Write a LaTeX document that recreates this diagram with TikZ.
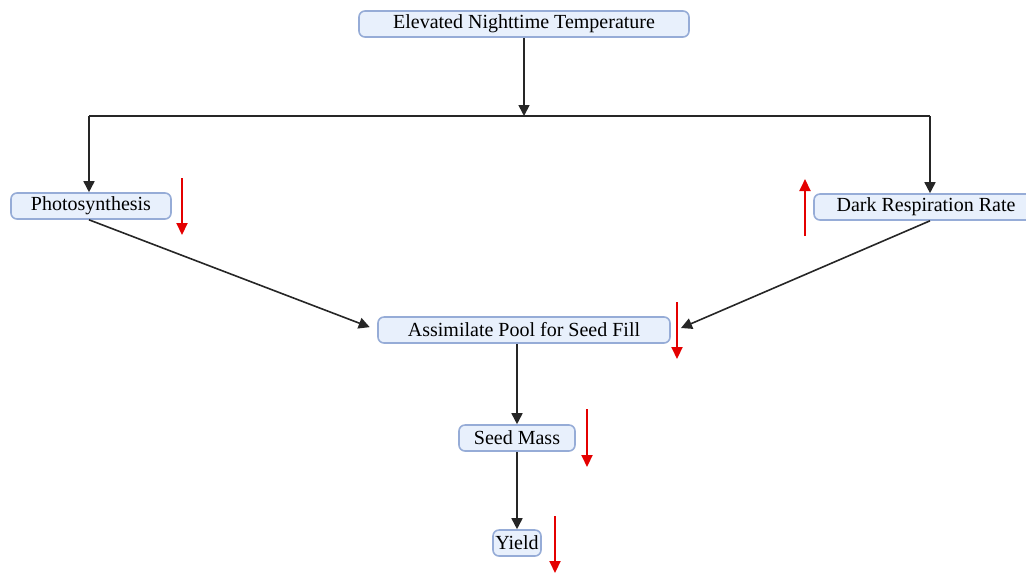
\documentclass[tikz,border=0pt]{standalone}
\usepackage{fontspec}
\setmainfont{Liberation Serif}
\usepackage{xcolor}
\usetikzlibrary{arrows.meta,positioning,calc}

\definecolor{boxfill}{RGB}{232,240,252}
\definecolor{boxline}{RGB}{150,172,215}
\definecolor{upred}{RGB}{228,0,0}

\begin{document}
\begin{tikzpicture}[
    x=0.5pt, y=-0.5pt,
    box/.style={rectangle, draw=boxline, fill=boxfill, line width=0.8pt, rounded corners=3pt,
        minimum height=13pt, inner sep=1pt, align=center, font=\normalsize},
    arrow/.style={-{Triangle[length=5.5pt,width=5.5pt]}, line width=0.8pt, black!85},
    line/.style={line width=0.8pt, black!85},
    redarrow/.style={-{Triangle[length=6pt,width=5.5pt]}, line width=1pt, upred}
]
\useasboundingbox (0,0) rectangle (1026,575);
\clip (0,0) rectangle (1026,575);

% Driver
\node[box, minimum width=165pt] (temp) at (524,24) {Elevated Nighttime Temperature};

% Processes
\node[box, minimum width=80pt] (photo) at (91,206) {Photosynthesis};
\node[box, minimum width=112pt] (dark) at (926,207) {Dark Respiration Rate};

% Assimilates and yield
\node[box, minimum width=146pt] (assim) at (524,330) {Assimilate Pool for Seed Fill};
\node[box, minimum width=58pt] (seed) at (517,438) {Seed Mass};
\node[box, minimum width=24pt] (yield) at (517,543) {Yield};

% Split points
\coordinate (split) at (524,116);
\coordinate (splitL) at (89,116);
\coordinate (splitR) at (930,116);
\coordinate (assimR) at (681,328);

% Arrows
\draw[arrow] (temp) -- (split);
\draw[line] (splitL) -- (splitR);
\draw[arrow] (splitL) -- (splitL |- photo.north);
\draw[arrow] (splitR) -- (splitR |- dark.north);
\draw[arrow, shorten >=4pt] (splitL |- photo.south) -- (assim.west);
\draw[arrow] (splitR |- dark.south) -- (assimR);
\draw[arrow] (assim.south -| seed) -- (seed);
\draw[arrow] (seed) -- (yield);

% Trend markers
\coordinate (photoT) at (182,178);
\coordinate (photoB) at (182,235);
\coordinate (darkT) at (805,179);
\coordinate (darkB) at (805,236);
\coordinate (assimT) at (677,302);
\coordinate (assimB) at (677,359);
\coordinate (seedT) at (587,409);
\coordinate (seedB) at (587,467);
\coordinate (yieldT) at (555,516);
\coordinate (yieldB) at (555,573);
\draw[redarrow] (photoT) -- (photoB);
\draw[redarrow] (darkB) -- (darkT);
\draw[redarrow] (assimT) -- (assimB);
\draw[redarrow] (seedT) -- (seedB);
\draw[redarrow] (yieldT) -- (yieldB);

\end{tikzpicture}
\end{document}
